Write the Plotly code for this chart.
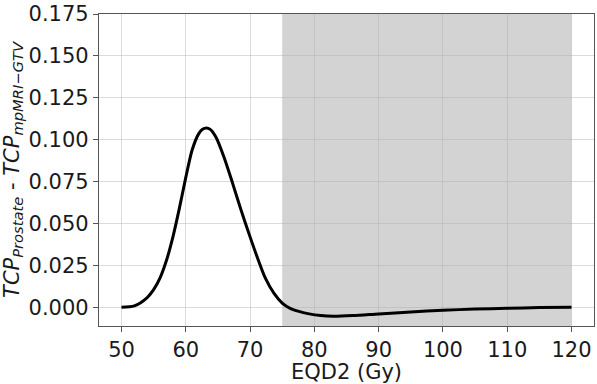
import plotly.graph_objects as go

# EQD2 (Gy) and TCP difference
eqd2 = [50, 52, 54, 55, 56, 57, 58, 59, 60, 61, 62, 62.6, 63.2, 63.8, 64.7, 66,
        67.3, 68.6, 70, 71.2, 72.4, 73.7, 75, 76.3, 77.6, 79, 81, 83, 86, 90,
        95, 100, 105, 110, 115, 120]
tcp_diff = [0.0, 0.0008, 0.0058, 0.0105, 0.0175, 0.028, 0.042, 0.059, 0.0775,
            0.094, 0.1035, 0.1062, 0.107, 0.1062, 0.1015, 0.089, 0.0738, 0.058,
            0.042, 0.029, 0.0172, 0.0084, 0.0025, -0.0008, -0.0025, -0.0038,
            -0.0050, -0.0054, -0.0050, -0.0040, -0.0028, -0.0018, -0.0011,
            -0.0006, -0.0002, 0.0]

shade_start = 75
shade_end = 120

y_ticks = [0.0, 0.025, 0.05, 0.075, 0.1, 0.125, 0.15, 0.175]
x_ticks = [50, 60, 70, 80, 90, 100, 110, 120]

font = dict(family="DejaVu Sans", size=21, color="#1a1a1a")

fig = go.Figure()
fig.add_trace(go.Scatter(x=eqd2, y=tcp_diff, mode="lines",
                         line=dict(color="black", width=3, shape="spline", smoothing=0.8),
                         showlegend=False))

fig.add_shape(type="rect", xref="x", yref="paper", x0=shade_start, x1=shade_end,
              y0=0, y1=1, fillcolor="#d3d3d3", line_width=0, layer="below")

axis_common = dict(showline=True, mirror=True, linecolor="#555555", linewidth=1.2,
                   ticks="outside", ticklen=5, tickcolor="#555555",
                   showgrid=True, gridcolor="rgba(176,176,176,0.45)", gridwidth=1,
                   zeroline=False, tickfont=font, ticklabeloverflow="allow")

fig.update_layout(
    width=597, height=384,
    margin=dict(l=99, r=2, t=7, b=58),
    paper_bgcolor="white", plot_bgcolor="white",
    font=font,
    xaxis=dict(range=[46.5, 123.5], tickvals=x_ticks,
               title=dict(text="EQD2 (Gy)", font=font, standoff=2), **axis_common),
    yaxis=dict(range=[-0.0112, 0.17505], tickvals=y_ticks, tickformat=".3f",
               title=dict(text="<i>TCP</i><sub><i>Prostate</i></sub> - <i>TCP</i><sub><i>mpMRI\u2212GTV</i></sub>",
                          font=font, standoff=4), **axis_common),
)

# drop the default page margin so the figure sits at the window corner
fig.write_html("out.html", config={"displayModeBar": False},
               post_script="document.body.style.margin='0';")
